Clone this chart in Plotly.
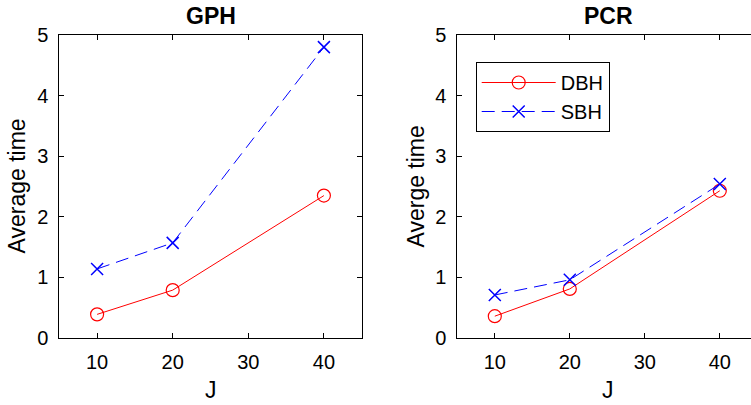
import plotly.graph_objects as go
from plotly.subplots import make_subplots

J = [10, 20, 40]
gph_dbh = [0.39, 0.79, 2.35]
gph_sbh = [1.14, 1.57, 4.80]
pcr_dbh = [0.36, 0.81, 2.43]
pcr_sbh = [0.71, 0.96, 2.54]
titles = ["GPH", "PCR"]
ylabels = ["Average time", "Averge time"]
yticks = [0, 1, 2, 3, 4, 5]
xticks = [10, 20, 30, 40]

FONT = "Liberation Sans, Arial, Helvetica, sans-serif"
W, H = 751, 405

fig = make_subplots(rows=1, cols=2)

red = "#ff0000"
blue = "#0000ff"

for col, (dbh, sbh) in enumerate([(gph_dbh, gph_sbh), (pcr_dbh, pcr_sbh)], start=1):
    fig.add_trace(go.Scatter(x=J, y=dbh, mode="lines+markers", name="DBH",
                             line=dict(color=red, width=1),
                             marker=dict(symbol="circle-open", size=13, color=red, line=dict(width=1.2)),
                             showlegend=(col == 2)), row=1, col=col)
    fig.add_trace(go.Scatter(x=J, y=sbh, mode="lines+markers", name="SBH",
                             line=dict(color=blue, width=1, dash="13px,7px"),
                             marker=dict(symbol="x-thin-open", size=12, color=blue, line=dict(width=1.5, color=blue)),
                             showlegend=(col == 2)), row=1, col=col)

ydom = [(H - 338) / H, (H - 35) / H]
xdom1 = [59.3 / W, 361.7 / W]
xdom2 = [457.3 / W, 1.0]

axcommon = dict(showline=True, linecolor="black", linewidth=1, ticks="inside", ticklen=5,
                tickcolor="black", showgrid=False, zeroline=False, automargin=False,
                tickfont=dict(family=FONT, size=20, color="black"), ticklabelstandoff=6)

fig.update_layout(
    template="none",
    xaxis=dict(domain=xdom1, range=[5, 45], tickvals=xticks, mirror="ticks", **axcommon),
    yaxis=dict(domain=ydom, range=[0, 5], tickvals=yticks, mirror="ticks", **axcommon),
    xaxis2=dict(domain=xdom2, range=[5, 5 + (W - 457.3) / 7.5], tickvals=xticks, mirror="ticks", **axcommon),
    yaxis2=dict(domain=ydom, range=[0, 5], tickvals=yticks, mirror=False, **axcommon),
)

anns = []
centers = [(xdom1[0] + xdom1[1]) / 2, (457.3 + 759) / 2 / W]
for i, t in enumerate(titles):
    anns.append(dict(text="<b>%s</b>" % t, x=centers[i], y=1 - 16 / H, xref="paper", yref="paper",
                     xanchor="center", yanchor="middle", showarrow=False,
                     font=dict(family=FONT, size=23, color="black")))
    anns.append(dict(text="J", x=centers[i], y=1 - 390 / H, xref="paper", yref="paper",
                     xanchor="center", yanchor="middle", showarrow=False,
                     font=dict(family=FONT, size=23, color="black")))
ylab_x = [16 / W, 415 / W]
for i, t in enumerate(ylabels):
    anns.append(dict(text=t, x=ylab_x[i], y=(ydom[0] + ydom[1]) / 2, xref="paper", yref="paper",
                     xanchor="center", yanchor="middle", showarrow=False, textangle=-90,
                     font=dict(family=FONT, size=23, color="black")))

fig.update_layout(
    annotations=anns,
    width=W, height=H,
    margin=dict(l=0, r=0, t=0, b=0, autoexpand=False),
    paper_bgcolor="white", plot_bgcolor="white",
    font=dict(family=FONT, color="black"),
    legend=dict(x=475.7 / W, y=1 - 62 / H, xanchor="left", yanchor="top",
                bordercolor="black", borderwidth=1, bgcolor="white",
                font=dict(family=FONT, size=20, color="black"),
                itemwidth=74, tracegroupgap=0),
)

fig.write_html("out.html", config={"displayModeBar": False},
               post_script="document.body.style.margin='0px';document.body.style.padding='0px';")
